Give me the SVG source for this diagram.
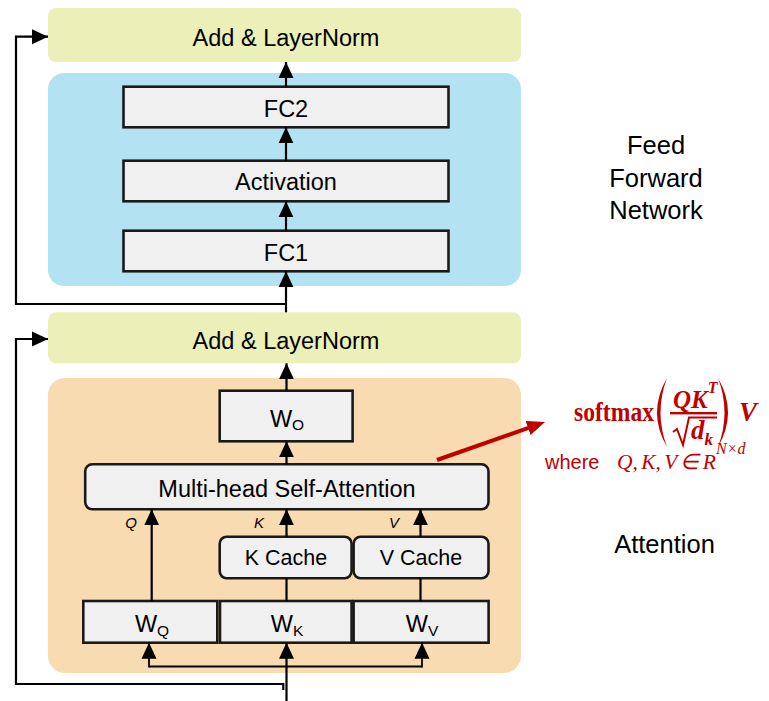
<svg xmlns="http://www.w3.org/2000/svg" width="769" height="701" viewBox="0 0 769 701">
  <style>
    .norm { fill: #ebf0b8; }
    .ffn-bg { fill: #b3e3f3; }
    .attn-bg { fill: #f8dbb0; }
    .box { fill: #f0f0f0; stroke: #1a1a1a; stroke-width: 2.6; }
    .lbl { font-family: "Liberation Sans", Arial, sans-serif; font-size: 23.5px; fill: #000; text-anchor: middle; }
    .cache { font-size: 21.5px; }
    .qkv { font-family: "Liberation Sans", Arial, sans-serif; font-size: 15px; font-style: italic; fill: #000; text-anchor: middle; }
    .side { font-family: "Liberation Sans", Arial, sans-serif; font-size: 25.5px; fill: #000; text-anchor: middle; }
    .wire { fill: none; stroke: #000; stroke-width: 2.2; }
    .thin { fill: none; stroke: #000; stroke-width: 1.8; }
    .math { font-family: "Liberation Serif", "Times New Roman", serif; font-weight: bold; font-style: italic; fill: #c00000; }
    .mathr { font-family: "Liberation Serif", "Times New Roman", serif; font-style: italic; fill: #c00000; }
  </style>
  <defs>
    <marker id="ah" viewBox="0 0 16 16" refX="16" refY="8" markerWidth="16" markerHeight="16" markerUnits="userSpaceOnUse" orient="auto">
      <path d="M0,0.5 L16,8 L0,15.5 z" fill="#000"/>
    </marker>
    <marker id="ah-red" viewBox="0 0 18 15" refX="8" refY="7.5" markerWidth="18" markerHeight="15" markerUnits="userSpaceOnUse" orient="auto">
      <path d="M0,0 L18,7.5 L0,15 z" fill="#c00000"/>
    </marker>
  </defs>

  <!-- block backgrounds -->
  <g id="ffn-block">
    <rect class="ffn-bg" x="48" y="73" width="473" height="213" rx="16"/>
  </g>
  <g id="attn-block">
    <rect class="attn-bg" x="48" y="378" width="473" height="295" rx="17"/>
  </g>

  <!-- feed-forward stack -->
  <g id="norm-top">
    <rect class="norm" x="48" y="8" width="473" height="54" rx="8"/>
    <text class="lbl" x="286" y="46">Add &amp; LayerNorm</text>
  </g>
  <g id="fc2">
    <rect class="box" x="123.5" y="86.7" width="325" height="40.6"/>
    <text class="lbl" x="286" y="116.7">FC2</text>
  </g>
  <g id="activation">
    <rect class="box" x="123.5" y="160.7" width="325" height="40.6"/>
    <text class="lbl" x="286" y="190">Activation</text>
  </g>
  <g id="fc1">
    <rect class="box" x="123.5" y="230.7" width="325" height="40.6"/>
    <text class="lbl" x="286" y="260.7">FC1</text>
  </g>

  <!-- attention stack -->
  <g id="norm-bottom">
    <rect class="norm" x="48" y="312.3" width="473" height="51" rx="8"/>
    <text class="lbl" x="286" y="349">Add &amp; LayerNorm</text>
  </g>
  <g id="w-o">
    <rect class="box" x="219.7" y="390.7" width="132.9" height="50.6"/>
    <text class="lbl" x="287" y="426.7">W<tspan font-size="15.5" dy="3">O</tspan></text>
  </g>
  <g id="mhsa">
    <rect class="box" x="85.2" y="464.3" width="403.3" height="45" rx="7"/>
    <text class="lbl" x="287" y="496.7">Multi-head Self-Attention</text>
  </g>
  <g id="k-cache">
    <rect class="box" x="219.7" y="536.7" width="131.9" height="41.6" rx="7"/>
    <text class="lbl cache" x="286" y="565">K Cache</text>
  </g>
  <g id="v-cache">
    <rect class="box" x="353.6" y="536.7" width="134.9" height="41.6" rx="7"/>
    <text class="lbl cache" x="421" y="565">V Cache</text>
  </g>
  <g id="w-q">
    <rect class="box" x="83.3" y="601" width="134" height="41.7"/>
    <text class="lbl" x="152" y="632">W<tspan font-size="15.5" dy="4">Q</tspan></text>
  </g>
  <g id="w-k">
    <rect class="box" x="220" y="601" width="131.6" height="41.7"/>
    <text class="lbl" x="287" y="632">W<tspan font-size="15.5" dy="4">K</tspan></text>
  </g>
  <g id="w-v">
    <rect class="box" x="353.6" y="601" width="135" height="41.7"/>
    <text class="lbl" x="422" y="632">W<tspan font-size="15.5" dy="4">V</tspan></text>
  </g>

  <!-- connectors -->
  <g id="connectors">
    <path class="wire" d="M286 86.7 V62" marker-end="url(#ah)"/>
    <path class="wire" d="M286 160.7 V127.3" marker-end="url(#ah)"/>
    <path class="wire" d="M286 230.7 V201.3" marker-end="url(#ah)"/>
    <path class="wire" d="M286 312.3 V271.3" marker-end="url(#ah)"/>
    <path class="wire" d="M286 304 H16 V36.7 H48" marker-end="url(#ah)"/>

    <path class="wire" d="M286.5 390.7 V363.3" marker-end="url(#ah)"/>
    <path class="wire" d="M286.5 464.3 V441.3" marker-end="url(#ah)"/>
    <path class="wire" d="M151.7 601 V509.3" marker-end="url(#ah)"/>
    <path class="wire" d="M286.5 601 V578.3"/>
    <path class="wire" d="M286.5 536.7 V509.3" marker-end="url(#ah)"/>
    <path class="wire" d="M420.5 601 V578.3"/>
    <path class="wire" d="M420.5 536.7 V509.3" marker-end="url(#ah)"/>

    <path class="wire" d="M286.5 701 V642.7" stroke-width="2.6" marker-end="url(#ah)"/>
    <path class="thin" d="M149 666.5 H422"/>
    <path class="thin" d="M149 667.4 V642.7" marker-end="url(#ah)"/>
    <path class="thin" d="M422 667.4 V642.7" marker-end="url(#ah)"/>
    <path class="wire" d="M283.3 690 V684 H16 V339 H48" marker-end="url(#ah)"/>

    <path d="M437 460 L535.6 425.3" fill="none" stroke="#c00000" stroke-width="4" marker-end="url(#ah-red)"/>
  </g>

  <!-- Q / K / V edge labels -->
  <text class="qkv" x="131" y="528">Q</text>
  <text class="qkv" x="259" y="528">K</text>
  <text class="qkv" x="394" y="528">V</text>

  <!-- side captions -->
  <g id="ffn-caption">
    <text class="side" x="656" y="154">Feed</text>
    <text class="side" x="656" y="187">Forward</text>
    <text class="side" x="656" y="219">Network</text>
  </g>
  <g id="attn-caption">
    <text class="side" x="664.5" y="553">Attention</text>
  </g>

  <!-- attention formula -->
  <g id="formula">
    <text x="574" y="421" font-family="Liberation Serif, serif" font-weight="bold" font-size="27" fill="#c00000" textLength="80" lengthAdjust="spacingAndGlyphs">softmax</text>
    <path d="M667 378 Q647 412.5 667 447 Q654 412.5 667 378 Z" fill="#c00000"/>
    <path d="M718 378 Q738 412.5 718 447 Q731 412.5 718 378 Z" fill="#c00000"/>
    <text class="math" x="673" y="408" font-size="25">QK<tspan font-size="16" dy="-15">T</tspan></text>
    <rect x="670" y="412" width="47" height="2.4" fill="#c00000"/>
    <path d="M673 432 L677 429 L683 445 L689 417.5 H717" fill="none" stroke="#c00000" stroke-width="2"/>
    <text class="math" x="691" y="439" font-size="27">d<tspan font-size="17" dy="6">k</tspan></text>
    <text class="math" x="739" y="421" font-size="27">V</text>
    <text x="545" y="469" font-family="Liberation Sans, Arial, sans-serif" font-size="20" fill="#c00000">where</text>
    <text class="mathr" x="617" y="469" font-size="21.5" word-spacing="-2">Q, K, V ∈ R<tspan font-size="16" dy="-15">N×d</tspan></text>
  </g>
</svg>
